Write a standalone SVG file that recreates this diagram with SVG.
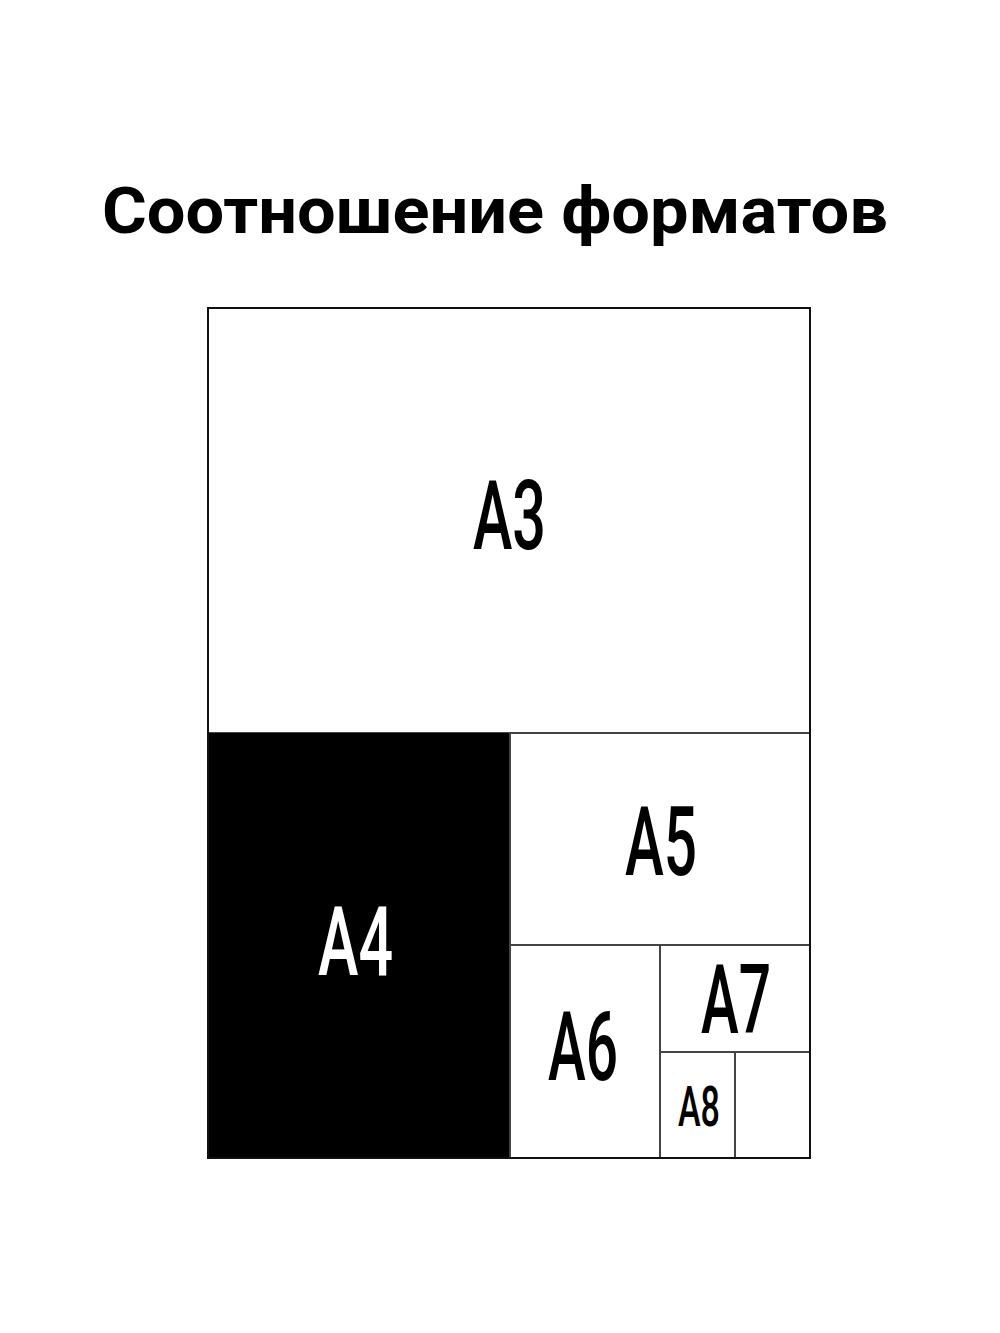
<svg xmlns="http://www.w3.org/2000/svg" width="1000" height="1333" viewBox="0 0 1000 1333">
<style>
.title{font-family:Roboto,"Liberation Sans",sans-serif;font-weight:700;font-size:64px;fill:#000}
.lbl{font-family:Roboto,"Liberation Sans",sans-serif;font-weight:500;font-size:97px;fill:#000;text-anchor:middle}
.box{fill:#fff;stroke:#444;stroke-width:2}
</style>
<rect width="1000" height="1333" fill="#fff"/>
<text class="title" x="102" y="233" textLength="786" lengthAdjust="spacingAndGlyphs">Соотношение форматов</text>
<g id="A3"><rect class="box" x="208" y="308" width="602" height="425" stroke="#111"/><text class="lbl" x="509.5" y="549" textLength="73" lengthAdjust="spacingAndGlyphs">A3</text></g>
<g id="A4"><rect x="208" y="733" width="302" height="425" fill="#000"/><text class="lbl" x="355.5" y="975" textLength="75" lengthAdjust="spacingAndGlyphs" style="fill:#fff">A4</text></g>
<g id="A5"><rect class="box" x="510" y="733" width="300" height="212"/><text class="lbl" x="661" y="875" textLength="72" lengthAdjust="spacingAndGlyphs">A5</text></g>
<g id="A6"><rect class="box" x="510" y="945" width="150" height="213"/><text class="lbl" x="583" y="1080" textLength="70" lengthAdjust="spacingAndGlyphs">A6</text></g>
<g id="A7"><rect class="box" x="660" y="945" width="150" height="107"/><text class="lbl" x="736" y="1033" textLength="70" lengthAdjust="spacingAndGlyphs">A7</text></g>
<g id="A8"><rect class="box" x="660" y="1052" width="75" height="106"/><text class="lbl" x="699" y="1126" textLength="42" lengthAdjust="spacingAndGlyphs" style="font-size:55px">A8</text></g>
<g id="rest"><rect class="box" x="735" y="1052" width="75" height="106"/></g>
<g id="border"><rect x="208" y="308" width="602" height="850" fill="none" stroke="#111" stroke-width="2"/></g>
</svg>
